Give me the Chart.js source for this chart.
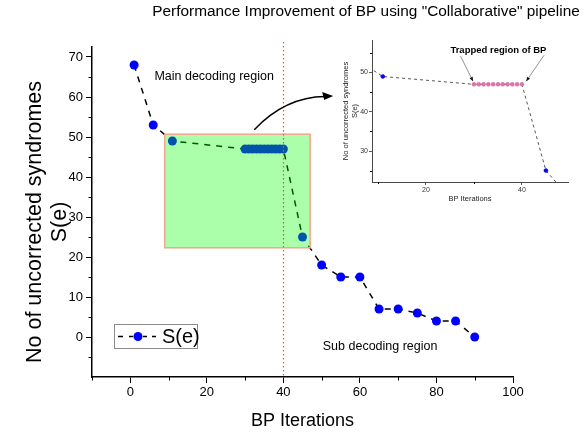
<!DOCTYPE html>
<html lang="en">
<head>
  <meta charset="UTF-8" />
  <title>Performance Improvement of BP</title>
  <script src="https://cdn.jsdelivr.net/npm/chart.js"></script>
  <style>
    html, body { margin: 0; padding: 0; background: #fff; }
    #wrap { position: relative; width: 586px; height: 436px; }
    #main { position: absolute; left: 0; top: 0; }
    #inset { position: absolute; left: 335px; top: 30px; }
  </style>
</head>
<body>
  <div id="wrap">
    <canvas id="main" width="586" height="436"></canvas>
    <canvas id="inset" width="251" height="180"></canvas>
  </div>

  <script>
    // data
    const iterations = [1, 6, 11, 30, 31, 32, 33, 34, 35, 36, 37, 38, 39, 40, 45, 50, 55, 60, 65, 70, 75, 80, 85, 90];
    const syndromes  = [68, 53, 49, 47, 47, 47, 47, 47, 47, 47, 47, 47, 47, 47, 25, 18, 15, 15, 7, 7, 6, 4, 4, 0];
    const trappedIters = [30, 31, 32, 33, 34, 35, 36, 37, 38, 39, 40];
    const xTicks = [0, 20, 40, 60, 80, 100];
    const yTicks = [0, 10, 20, 30, 40, 50, 60, 70];
    const insetXTicks = [20, 40];
    const insetYTicks = [30, 40, 50];
    const zoomBox = [9, 47, 22.3, 50.7];   // xMin, xMax, yMin, yMax of highlighted region
    const markerLine = 40;                 // dotted vertical line

    const FONT = 'Arial, "Liberation Sans", sans-serif';
    const pts = iterations.map((x, i) => ({ x: x, y: syndromes[i] }));

    function minorTicks(ctx, scale, values, len, horizontal) {
      ctx.save();
      ctx.strokeStyle = '#000';
      ctx.lineWidth = 1;
      ctx.beginPath();
      values.forEach(v => {
        const p = Math.round(scale.getPixelForValue(v)) + 0.5;
        if (horizontal) {
          ctx.moveTo(p, scale.top);
          ctx.lineTo(p, scale.top + len);
        } else {
          ctx.moveTo(scale.right, p);
          ctx.lineTo(scale.right - len, p);
        }
      });
      ctx.stroke();
      ctx.restore();
    }

    const mainDecor = {
      id: 'mainDecor',
      afterDatasetsDraw(chart) {
        const { ctx, chartArea, scales: { x, y } } = chart;
        // highlighted region
        const x0 = x.getPixelForValue(zoomBox[0]), x1 = x.getPixelForValue(zoomBox[1]);
        const y0 = y.getPixelForValue(zoomBox[3]), y1 = y.getPixelForValue(zoomBox[2]);
        ctx.save();
        ctx.fillStyle = 'rgba(0,255,0,0.33)';
        ctx.fillRect(x0, y0, x1 - x0, y1 - y0);
        ctx.strokeStyle = '#f2a58f';
        ctx.lineWidth = 1.5;
        ctx.strokeRect(x0, y0, x1 - x0, y1 - y0);

        // dotted line at iteration 40
        const lx = Math.round(x.getPixelForValue(markerLine)) + 0.5;
        ctx.strokeStyle = '#d2691e';
        ctx.lineWidth = 1.2;
        ctx.setLineDash([1.5, 2.5]);
        ctx.beginPath();
        ctx.moveTo(lx, chartArea.top - 5);
        ctx.lineTo(lx, chartArea.bottom);
        ctx.stroke();
        ctx.setLineDash([]);

        // curved arrow toward the inset
        const ax = x.getPixelForValue(32.4), ay = y.getPixelForValue(51.8);
        const cx = x.getPixelForValue(40.5), cy = y.getPixelForValue(60);
        const bx = x.getPixelForValue(52.5), by = y.getPixelForValue(60.1);
        ctx.strokeStyle = '#000';
        ctx.lineWidth = 1.5;
        ctx.beginPath();
        ctx.moveTo(ax, ay);
        ctx.quadraticCurveTo(cx, cy, bx - 6, by);
        ctx.stroke();
        ctx.fillStyle = '#000';
        ctx.beginPath();
        ctx.moveTo(bx + 2, by - 0.5);
        ctx.lineTo(bx - 9, by - 4.5);
        ctx.lineTo(bx - 7, by + 3.5);
        ctx.closePath();
        ctx.fill();

        // region labels
        ctx.fillStyle = '#000';
        ctx.font = '12.5px ' + FONT;
        ctx.textBaseline = 'middle';
        ctx.textAlign = 'left';
        ctx.fillText('Main decoding region', x.getPixelForValue(6.3), y.getPixelForValue(65.2));
        ctx.fillText('Sub decoding region', x.getPixelForValue(50.3), y.getPixelForValue(-2.3));
        ctx.restore();
      },
      afterDraw(chart) {
        const { ctx, chartArea, scales: { x, y } } = chart;
        minorTicks(ctx, x, [-10, 10, 30, 50, 70, 90], 3.5, true);
        minorTicks(ctx, y, [-5, 5, 15, 25, 35, 45, 55, 65], 3.5, false);

        ctx.save();
        ctx.fillStyle = '#000';
        ctx.textAlign = 'center';
        ctx.textBaseline = 'middle';
        ctx.font = '15.4px ' + FONT;
        ctx.fillText('Performance Improvement of BP using "Collaborative" pipeline', 366, 12);

        ctx.font = '18px ' + FONT;
        ctx.fillText('BP Iterations', (chartArea.left + chartArea.right) / 2, 421);
        ctx.font = '21.5px ' + FONT;
        ctx.translate(35, 222);
        ctx.rotate(-Math.PI / 2);
        ctx.fillText('No of uncorrected syndromes', 0, 0);
        ctx.fillText('S(e)', 0, 25);
        ctx.restore();

        // legend box
        const lx = chartArea.left + 22, ly = chartArea.bottom - 53;
        ctx.save();
        ctx.strokeStyle = '#8c8c8c';
        ctx.lineWidth = 1;
        ctx.strokeRect(lx + 0.5, ly + 0.5, 83, 24);
        ctx.strokeStyle = '#000';
        ctx.lineWidth = 1.5;
        ctx.beginPath();
        ctx.moveTo(lx + 4, ly + 12.5); ctx.lineTo(lx + 9, ly + 12.5);
        ctx.moveTo(lx + 15, ly + 12.5); ctx.lineTo(lx + 19, ly + 12.5);
        ctx.moveTo(lx + 29, ly + 12.5); ctx.lineTo(lx + 33, ly + 12.5);
        ctx.moveTo(lx + 38, ly + 12.5); ctx.lineTo(lx + 42, ly + 12.5);
        ctx.stroke();
        ctx.fillStyle = '#0000ff';
        ctx.beginPath();
        ctx.arc(lx + 24, ly + 12.5, 4.5, 0, Math.PI * 2);
        ctx.fill();
        ctx.fillStyle = '#000';
        ctx.font = '20px ' + FONT;
        ctx.textBaseline = 'middle';
        ctx.fillText('S(e)', lx + 48, ly + 13);
        ctx.restore();
      }
    };

    new Chart(document.getElementById('main'), {
      type: 'line',
      data: {
        datasets: [{
          label: 'S(e)',
          data: pts,
          borderColor: '#000',
          borderWidth: 1.5,
          borderDash: [6, 6],
          pointBackgroundColor: '#0000ff',
          pointBorderColor: '#0000ff',
          pointRadius: 4.5,
          pointBorderWidth: 0,
          tension: 0,
          fill: false
        }]
      },
      options: {
        responsive: false,
        animation: false,
        events: [],
        layout: { padding: { top: 47, right: 73, left: 0, bottom: 0 } },
        plugins: { legend: { display: false }, tooltip: { enabled: false } },
        scales: {
          x: {
            type: 'linear',
            min: -10,
            max: 100,
            afterFit: s => { s.height = 59; },
            afterBuildTicks: s => { s.ticks = xTicks.map(v => ({ value: v })); },
            grid: { drawOnChartArea: false, drawTicks: true, tickLength: 6, color: '#000', tickWidth: 1 },
            border: { display: true, color: '#000', width: 1.5 },
            ticks: { color: '#000', font: { family: FONT, size: 13 }, padding: 2, maxRotation: 0 }
          },
          y: {
            type: 'linear',
            min: -10,
            max: 72.5,
            afterFit: s => { s.width = 92; },
            afterBuildTicks: s => { s.ticks = yTicks.map(v => ({ value: v })); },
            grid: { drawOnChartArea: false, drawTicks: true, tickLength: 6, color: '#000', tickWidth: 1 },
            border: { display: true, color: '#000', width: 1.5 },
            ticks: { color: '#000', font: { family: FONT, size: 13 }, padding: 3 }
          }
        }
      },
      plugins: [mainDecor]
    });

    // inset zoom of the trapped region
    const insetDecor = {
      id: 'insetDecor',
      afterDraw(chart) {
        const { ctx, chartArea, scales: { x, y } } = chart;
        minorTicks(ctx, x, [10, 30], 2, true);
        minorTicks(ctx, y, [25, 35, 45, 55], 2, false);
        ctx.save();
        ctx.fillStyle = '#222';
        ctx.textAlign = 'center';
        ctx.textBaseline = 'middle';
        ctx.font = '7.5px ' + FONT;
        ctx.fillText('BP Iterations', (chartArea.left + chartArea.right) / 2, 169);
        ctx.save();
        ctx.translate(11, (chartArea.top + chartArea.bottom) / 2);
        ctx.rotate(-Math.PI / 2);
        ctx.fillText('No of uncorrected syndromes', 0, 0);
        ctx.fillText('S(e)', 0, 9);
        ctx.restore();

        ctx.font = 'bold 9.5px ' + FONT;
        ctx.fillStyle = '#000';
        ctx.fillText('Trapped region of BP', x.getPixelForValue(35.1), y.getPixelForValue(55.7));

        // pointer arrows to both ends of the trapped run
        const arrow = (fx, fy, tx, ty) => {
          const x0 = x.getPixelForValue(fx), y0 = y.getPixelForValue(fy);
          const x1 = x.getPixelForValue(tx), y1 = y.getPixelForValue(ty);
          const a = Math.atan2(y1 - y0, x1 - x0);
          ctx.strokeStyle = '#777';
          ctx.lineWidth = 0.8;
          ctx.beginPath();
          ctx.moveTo(x0, y0); ctx.lineTo(x1, y1);
          ctx.stroke();
          ctx.fillStyle = '#111';
          ctx.beginPath();
          ctx.moveTo(x1, y1);
          ctx.lineTo(x1 - 4.5 * Math.cos(a - 0.4), y1 - 4.5 * Math.sin(a - 0.4));
          ctx.lineTo(x1 - 4.5 * Math.cos(a + 0.4), y1 - 4.5 * Math.sin(a + 0.4));
          ctx.closePath();
          ctx.fill();
        };
        arrow(27.2, 54.2, 29.8, 47.8);
        arrow(44.6, 54.4, 40.9, 47.8);
        ctx.restore();
      }
    };

    new Chart(document.getElementById('inset'), {
      type: 'line',
      data: {
        datasets: [{
          data: pts,
          borderColor: '#444',
          borderWidth: 0.9,
          borderDash: [3, 3],
          pointBackgroundColor: iterations.map(v => trappedIters.includes(v) ? '#e5739f' : '#0000ff'),
          pointBorderColor: iterations.map(v => trappedIters.includes(v) ? '#c36fb5' : '#0000ff'),
          pointBorderWidth: 0.5,
          pointRadius: 2,
          tension: 0,
          fill: false
        }]
      },
      options: {
        responsive: false,
        animation: false,
        events: [],
        layout: { padding: { top: 10, right: 18, left: 0, bottom: 0 } },
        plugins: { legend: { display: false }, tooltip: { enabled: false } },
        scales: {
          x: {
            type: 'linear',
            min: 8.75,
            max: 49.6,
            afterFit: s => { s.height = 28; },
            afterBuildTicks: s => { s.ticks = insetXTicks.map(v => ({ value: v })); },
            grid: { drawOnChartArea: false, drawTicks: true, tickLength: 3, color: '#333', tickWidth: 0.8 },
            border: { display: true, color: '#333', width: 0.9 },
            ticks: { color: '#333', font: { family: FONT, size: 7 }, padding: 1, maxRotation: 0 }
          },
          y: {
            type: 'linear',
            min: 22.1,
            max: 58.3,
            afterFit: s => { s.width = 37; },
            afterBuildTicks: s => { s.ticks = insetYTicks.map(v => ({ value: v })); },
            grid: { drawOnChartArea: false, drawTicks: true, tickLength: 3, color: '#333', tickWidth: 0.8 },
            border: { display: true, color: '#333', width: 0.9 },
            ticks: { color: '#333', font: { family: FONT, size: 7 }, padding: 1 }
          }
        }
      },
      plugins: [insetDecor]
    });
  </script>
</body>
</html>
